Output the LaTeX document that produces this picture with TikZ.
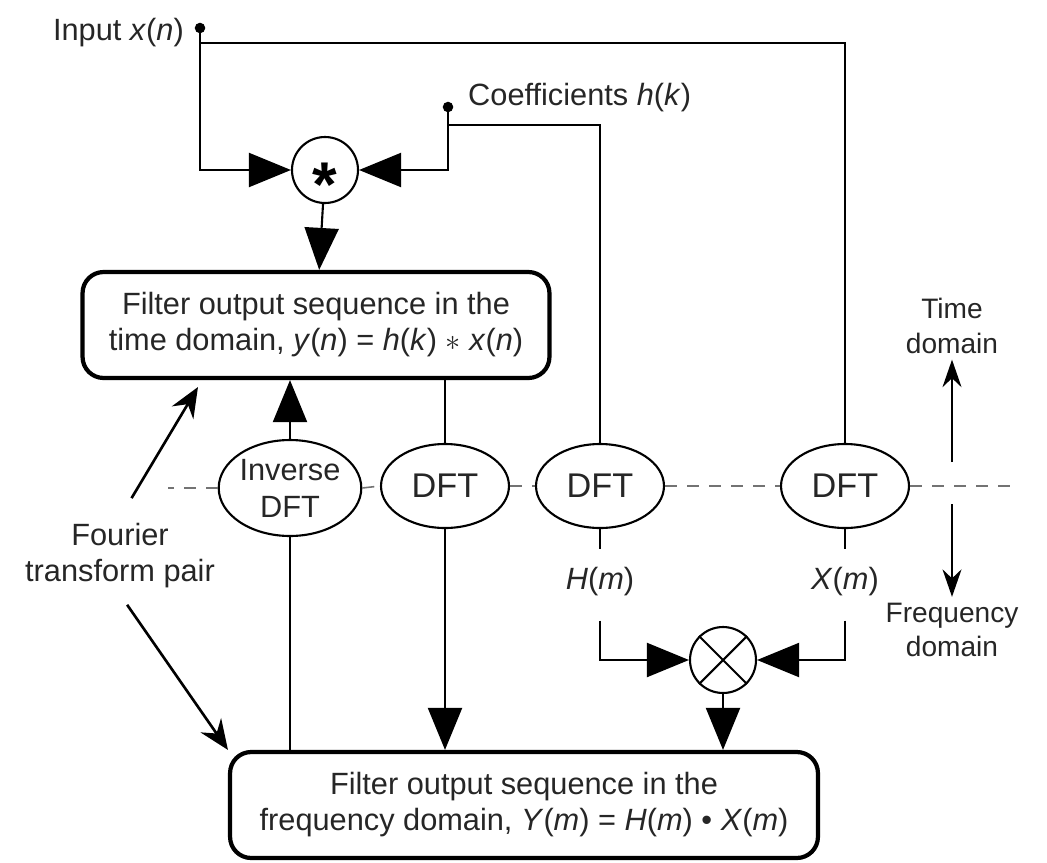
\documentclass[tikz,border=0pt]{standalone}
\usepackage{fontspec}
\setmainfont{Liberation Sans}
\usetikzlibrary{arrows.meta,shapes.geometric}
\newcommand{\sig}[1]{\textit{#1}}
\tikzset{
  box/.style={draw, line width=2.4pt, rounded corners=12pt, minimum height=2.12cm, align=center, text=black!85, font=\fontsize{17.5}{20.5}\selectfont},
  dftnode/.style={draw, ellipse, line width=1.2pt, minimum width=2.56cm, minimum height=1.68cm, inner sep=0pt, text=black!85, font=\fontsize{19.5}{21}\selectfont},
  opnode/.style={draw, circle, line width=1.2pt, minimum size=1.32cm, inner sep=0pt},
  wire/.style={line width=1.2pt},
  bigarrow/.style={wire, -{Triangle[length=8.4mm,width=6.8mm]}},
  pairarrow/.style={line width=1.5pt, -{Stealth[length=6mm,width=5mm,inset=2mm]}},
  domarrow/.style={line width=1pt, -{Stealth[length=5.5mm,width=3.8mm,inset=1.8mm]}},
  sep/.style={line width=0.9pt, black!55, dash pattern=on 0.24cm off 0.2cm},
  lbl/.style={align=center, text=black!85, font=\fontsize{17.5}{20.5}\selectfont},
  domlbl/.style={align=center, text=black!85, font=\fontsize{16}{19.5}\selectfont}
}
\begin{document}
\begin{tikzpicture}[x=0.02cm, y=-0.02cm]
                \useasboundingbox (0,0) rectangle (1047,862);
                \coordinate (in) at (200,28);
                \coordinate (coef) at (448,107);
                \fill (in) circle (3pt);
                \fill (coef) circle (3pt);
                \node[lbl, anchor=east] (inlbl) at (190,33) {Input \sig{x}(\sig{n})};
                \node[lbl, anchor=west] (coeflbl) at (462,98) {Coefficients \sig{h}(\sig{k})};
                \node[opnode] (conv) at (325,170) {\fontsize{36}{36}\selectfont\bfseries\raisebox{-0.57em}[0pt][0pt]{*}};
                \node[box, minimum width=9.34cm] (tbox) at (316,325) {Filter output sequence in the\\time domain, \sig{y}(\sig{n}) = \sig{h}(\sig{k}) $\ast$ \sig{x}(\sig{n})};
                \node[dftnode, minimum width=2.72cm, minimum height=1.92cm, font=\fontsize{17.5}{21}\selectfont, align=center] (idft) at (290,488) {Inverse\\DFT};
                \node[dftnode] (dfta) at (445,486) {DFT};
                \node[dftnode] (dftb) at (600,486) {DFT};
                \node[dftnode] (dftc) at (845,486) {DFT};
                \node[lbl] (hm) at (600,582) {\sig{H}(\sig{m})};
                \node[lbl] (xm) at (845,582) {\sig{X}(\sig{m})};
                \node[opnode] (mult) at (723,660) {};
                \draw[wire] (mult.north east) -- (mult.south west) (mult.north west) -- (mult.south east);
                \node[box, minimum width=11.76cm] (fbox) at (524,805) {Filter output sequence in the\\frequency domain, \sig{Y}(\sig{m}) = \sig{H}(\sig{m}) • \sig{X}(\sig{m})};
                \node[lbl] (pair) at (120,556) {Fourier\\transform pair};
                \node[domlbl] (time) at (952,326) {Time\\domain};
                \node[domlbl] (freq) at (952,630) {Frequency\\domain};
                \coordinate (ft) at (198,387);
                \coordinate (split) at (952,484);
                \draw[bigarrow] (in) |- (conv);
                \draw[wire] (in) -- ++(0,15) -| (dftc);
                \draw[bigarrow] (coef) |- (conv);
                \draw[wire] (coef) -- ++(0,18) -| (dftb);
                \draw[bigarrow] (conv) -- (tbox);
                \draw[bigarrow] (idft) -- (idft |- tbox.south);
                \draw[wire] (tbox.south -| dfta) -- (dfta);
                \draw[bigarrow] (dfta) -- (dfta |- fbox.north);
                \draw[wire] (idft) -- (idft |- fbox.north);
                \draw[wire] (dftb.south) -- ++(0,20);
                \draw[wire] (dftc.south) -- ++(0,20);
                \draw[bigarrow] (hm.south) ++(0,18) |- (mult);
                \draw[bigarrow] (xm.south) ++(0,18) |- (mult);
                \draw[bigarrow] (mult) -- (mult |- fbox.north);
                \draw[sep] (idft.west) -- ++(-50,0);
                \draw[sep] (idft.east) -- (dfta.west);
                \draw[sep] (dfta.east) -- (dftb.west);
                \draw[sep] (dftb.east) -- (dftc.west);
                \draw[sep] (dftc.east) -- ++(105,0);
                \draw[pairarrow, shorten <=0.45cm] (pair.north) -- (ft);
                \draw[pairarrow, shorten <=0.25cm] (pair.south) -- (fbox.north west);
                \draw[domarrow, shorten <=0.44cm] (split) -- (time);
                \draw[domarrow, shorten <=0.4cm] (split) -- (freq);
            \end{tikzpicture}
\end{document}
